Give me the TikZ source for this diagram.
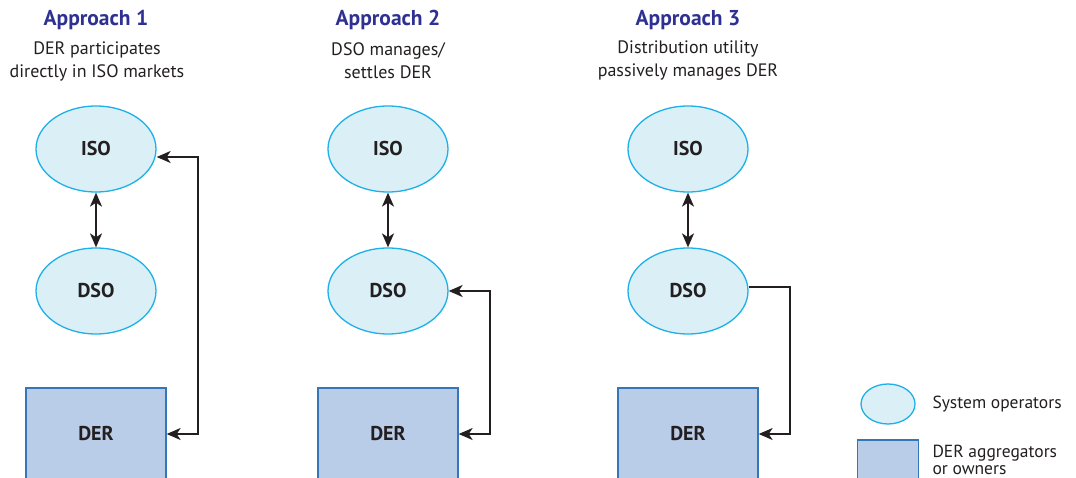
\documentclass[tikz,border=0pt]{standalone}
\usepackage{fontspec}
\setmainfont{PT Sans}
\usepackage{xcolor}
\definecolor{titleblue}{RGB}{46,49,146}
\definecolor{opfill}{RGB}{218,239,246}
\definecolor{opline}{RGB}{30,176,232}
\definecolor{derfill}{RGB}{185,204,232}
\definecolor{derline}{RGB}{52,118,186}
\definecolor{txt}{RGB}{35,31,32}
\usetikzlibrary{arrows.meta,shapes.geometric}

\tikzset{
  operator/.style={ellipse, draw=opline, fill=opfill, line width=1.3pt,
    minimum width=120pt, minimum height=86pt, inner sep=0pt,
    font=\fontsize{20}{22}\selectfont\bfseries, text=txt},
  derbox/.style={rectangle, draw=derline, fill=derfill, line width=1.3pt,
    minimum width=140pt, minimum height=92pt, inner sep=0pt,
    font=\fontsize{20}{22}\selectfont\bfseries, text=txt},
  heading/.style={font=\fontsize{21.5}{24}\selectfont\bfseries, text=titleblue},
  caption/.style={align=center, font=\fontsize{18}{23}\selectfont, text=txt},
  keytext/.style={right, align=left, font=\fontsize{17.5}{17.5}\selectfont, text=txt},
  link/.style={line width=1.7pt, draw=txt},
}

\begin{document}
\begin{tikzpicture}[>={Stealth[length=14pt, width=12pt, inset=4pt]}, x=1pt, y=-1pt]
        \useasboundingbox (0,0) rectangle (1076,478);

        % Approach 1
        \node[heading] (head1) at (96,20) {Approach 1};
        \node[caption] (cap1) at (97,61) {DER participates\\directly in ISO markets};
        \node[operator] (iso1) at (96,149) {ISO};
        \node[operator] (dso1) at (96,291) {DSO};
        \node[derbox] (der1) at (96,434) {DER};
        \draw[link, <->] (iso1) -- (dso1);
        \coordinate (turn1) at (198,157);
        \draw[link, <->] (iso1.east |- turn1) -- (turn1) |- (der1.east);

        % Approach 2
        \node[heading] (head2) at (388,20) {Approach 2};
        \node[caption] (cap2) at (388,61) {DSO manages/\\settles DER};
        \node[operator] (iso2) at (388,149) {ISO};
        \node[operator] (dso2) at (388,291) {DSO};
        \node[derbox] (der2) at (388,434) {DER};
        \draw[link, <->] (iso2) -- (dso2);
        \coordinate (turn2) at (490,291);
        \draw[link, <->] (dso2.east) -- (turn2) |- (der2.east);

        % Approach 3
        \node[heading] (head3) at (688,20) {Approach 3};
        \node[caption] (cap3) at (688,61) {Distribution utility\\passively manages DER};
        \node[operator] (iso3) at (688,149) {ISO};
        \node[operator] (dso3) at (688,291) {DSO};
        \node[derbox] (der3) at (688,434) {DER};
        \draw[link, <->] (iso3) -- (dso3);
        \coordinate (turn3) at (790,287);
        \draw[link, ->] (dso3.east |- turn3) -- (turn3) |- (der3.east);

        % Legend
        \node[operator, minimum width=54pt, minimum height=40pt] (keyop) at (888,404) {};
        \node[keytext] (keyoptext) at (929,404) {System operators};
        \node[derbox, minimum width=61pt, minimum height=42pt] (keyder) at (888,461) {};
        \node[keytext] (keydertext) at (929,460) {DER aggregators\\or owners};
    \end{tikzpicture}
\end{document}
